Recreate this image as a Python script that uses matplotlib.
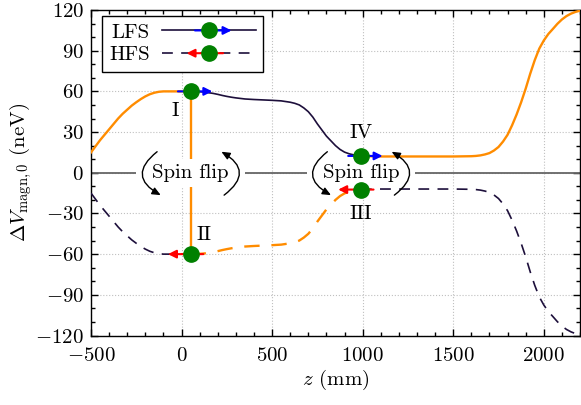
import matplotlib
matplotlib.use("Agg")
import matplotlib.pyplot as plt
from matplotlib.lines import Line2D
from matplotlib.patches import FancyArrowPatch, Rectangle
from matplotlib.legend_handler import HandlerBase
from matplotlib.ticker import MultipleLocator

plt.rcParams['font.family'] = 'serif'
plt.rcParams['font.serif'] = ['cmr10', 'DejaVu Serif']
plt.rcParams['mathtext.fontset'] = 'cm'
plt.rcParams['axes.unicode_minus'] = False
plt.rcParams['axes.formatter.use_mathtext'] = True
plt.rcParams['font.size'] = 15

# ---------------- data ----------------
z_mm = [-500, -475, -450, -425, -400, -375, -350, -325, -300, -275, -250,
        -225, -200, -175, -150, -125, -100, -50, 0, 50,
        100, 125, 150, 175, 200, 225, 250, 275, 300, 350, 400, 450, 500,
        550, 600, 625, 650, 675, 700, 725, 750, 775, 800, 825, 850, 875,
        900, 925, 950, 970, 990, 1050, 1100, 1200, 1300, 1400, 1500, 1600,
        1625, 1650, 1675, 1700, 1725, 1750, 1775, 1800, 1825, 1850, 1875,
        1900, 1925, 1950, 1975, 2000, 2025, 2050, 2075, 2100, 2125, 2150,
        2175, 2200]
dv_lfs = [15, 19.5, 24, 28, 32, 36, 40, 43.5, 46.5, 49.5, 52,
          54.3, 56.3, 57.9, 59, 59.7, 60, 60, 60, 60,
          59.8, 59.5, 59, 58.5, 57.8, 57, 56.3, 55.7, 55.2, 54.4, 54, 53.7, 53.4,
          53, 52, 51.2, 50, 47.8, 45, 41, 36, 31.5, 27, 23.5, 20, 17.2,
          15.2, 14, 13.2, 12.7, 12.4, 12.1, 12, 12, 12, 12, 12, 12.2,
          12.4, 12.8, 13.5, 14.5, 16.4, 19, 23, 28, 35, 43, 52,
          62, 73, 83, 91.5, 97.5, 102.3, 106, 109.8, 113, 115.5, 117.3,
          118.6, 119.5]
dv_hfs = [-v for v in dv_lfs]          # high-field seekers: mirror image

flip_z = [50, 990]                     # spin-flipper positions (mm)
point_names = [("I", "II"), ("IV", "III")]

DARK = "#1d0f3b"
ORANGE = "#ff8c00"
GREEN = "#008000"
DASH = (6.5, 5)


class ArrowMarkerHandler(HandlerBase):
    """Legend entry: line + coloured arrow + green dot."""
    def __init__(self, color, direction, dashed):
        super().__init__()
        self.color = color
        self.direction = direction
        self.dashed = dashed

    def create_artists(self, legend, orig_handle, xdescent, ydescent,
                       width, height, fontsize, trans):
        y = height / 2 - ydescent
        x0, x1 = -xdescent, width - xdescent
        xm = 0.5 * (x0 + x1)
        line = Line2D([x0, x1], [y, y], color=DARK, lw=1.2)
        if self.dashed:
            line.set_dashes(DASH)
        d = self.direction
        arr = FancyArrowPatch((xm - d * 0.15 * width, y), (xm + d * 0.24 * width, y),
                              arrowstyle='-|>', mutation_scale=12, lw=1.5,
                              color=self.color, shrinkA=0, shrinkB=0)
        dot = Line2D([xm], [y], marker='o', ms=11, color=GREEN, ls='')
        for a in (line, arr, dot):
            a.set_transform(trans)
        return [line, arr, dot]


fig = plt.figure(figsize=(5.81, 4.05), dpi=100)
ax = fig.add_axes([0.1566, 0.1716, 0.8417, 0.8037])

i1 = z_mm.index(flip_z[0])
i2 = z_mm.index(flip_z[1])

ax.axhline(0, color='#666666', lw=1.3, zorder=2)

# LFS: orange before first flip and after second flip
ax.plot(z_mm[:i1 + 1], dv_lfs[:i1 + 1], color=ORANGE, lw=1.7, zorder=3)
ax.plot(z_mm[i1:i2 + 1], dv_lfs[i1:i2 + 1], color=DARK, lw=1.2, zorder=3)
ax.plot(z_mm[i2:], dv_lfs[i2:], color=ORANGE, lw=1.7, zorder=3)
# HFS: orange between the flippers
ax.plot(z_mm[:i1 + 1], dv_hfs[:i1 + 1], color=DARK, lw=1.2, dashes=DASH, zorder=3)
ax.plot(z_mm[i1:i2 + 1], dv_hfs[i1:i2 + 1], color=ORANGE, lw=1.7, dashes=DASH, zorder=3)
ax.plot(z_mm[i2:], dv_hfs[i2:], color=DARK, lw=1.2, dashes=DASH, zorder=3)

arc_style = dict(arrowstyle='-|>,head_length=0.5,head_width=0.22', mutation_scale=10,
                 connectionstyle='arc3,rad=0.75', color='black', lw=1.0,
                 shrinkA=0, shrinkB=0)

for k, (i, zf) in enumerate(zip((i1, i2), flip_z)):
    up, dn = dv_lfs[i], dv_hfs[i]
    ax.plot([zf, zf], [up, dn], color=ORANGE, lw=1.7, zorder=3)
    # white box hiding the lines behind the "Spin flip" label
    ax.add_patch(Rectangle((zf - 300, -10.3), 600, 20.6, facecolor='white',
                           edgecolor='none', zorder=4))
    ax.text(zf, 0, "Spin flip", ha='center', va='center', zorder=5)
    ax.annotate('', xy=(zf - 165, -16.5), xytext=(zf - 185, 15.5),
                arrowprops=arc_style, zorder=5)
    ax.annotate('', xy=(zf + 170, 15.5), xytext=(zf + 185, -16.5),
                arrowprops=arc_style, zorder=5)
    # direction arrows
    ax.annotate('', xy=(zf + 120, up), xytext=(zf - 70, up),
                arrowprops=dict(arrowstyle='-|>', mutation_scale=12, color='blue',
                                lw=1.5, shrinkA=0, shrinkB=0), zorder=6)
    ax.annotate('', xy=(zf - 125, dn), xytext=(zf + 70, dn),
                arrowprops=dict(arrowstyle='-|>', mutation_scale=12, color='red',
                                lw=1.5, shrinkA=0, shrinkB=0), zorder=6)
    ax.plot([zf, zf], [up, dn], 'o', ms=11, color=GREEN, ls='', zorder=7)
    nm_up, nm_dn = point_names[k]
    if k == 0:
        ax.annotate(nm_up, (zf, up), xytext=(-11, -14), textcoords='offset points',
                    ha='center', va='center', zorder=7)
        ax.annotate(nm_dn, (zf, dn), xytext=(10, 14), textcoords='offset points',
                    ha='center', va='center', zorder=7)
    else:
        ax.annotate(nm_up, (zf, up), xytext=(0, 16.5), textcoords='offset points',
                    ha='center', va='center', zorder=7)
        ax.annotate(nm_dn, (zf, dn), xytext=(0, -17.5), textcoords='offset points',
                    ha='center', va='center', zorder=7)

ax.set_xlim(-500, 2200)
ax.set_ylim(-120, 120)
ax.xaxis.set_major_locator(MultipleLocator(500))
ax.xaxis.set_minor_locator(MultipleLocator(100))
ax.yaxis.set_major_locator(MultipleLocator(30))
ax.yaxis.set_minor_locator(MultipleLocator(10))
ax.tick_params(which='both', direction='in', top=True, right=True, width=1)
ax.tick_params(which='major', length=5)
ax.tick_params(which='minor', length=2.8)
ax.tick_params(axis='x', which='major', pad=8)
ax.tick_params(axis='y', which='major', pad=5)
ax.grid(True, which='major', ls=':', color='#c0c0c0', lw=0.8)
ax.set_axisbelow(True)
for sp in ax.spines.values():
    sp.set_linewidth(1.0)

ax.set_xlabel(r"$z$ (mm)", labelpad=2)
ax.set_ylabel(r"$\Delta V_{\mathrm{magn},0}$ (neV)", labelpad=1)

h_lfs = Line2D([], [], color=DARK)
h_hfs = Line2D([], [], color=DARK, ls='--')
leg = ax.legend([h_lfs, h_hfs], ["LFS", "HFS"],
                handler_map={h_lfs: ArrowMarkerHandler('blue', +1, False),
                             h_hfs: ArrowMarkerHandler('red', -1, True)},
                loc='upper left', bbox_to_anchor=(0.022, 0.982), borderaxespad=0,
                markerfirst=False, handlelength=4.5, handletextpad=0.6,
                labelspacing=0.2, borderpad=0.35, fancybox=False,
                edgecolor='black', framealpha=1)
leg.get_frame().set_linewidth(1.0)
leg.set_zorder(10)

fig.savefig("out.png", dpi=100)
